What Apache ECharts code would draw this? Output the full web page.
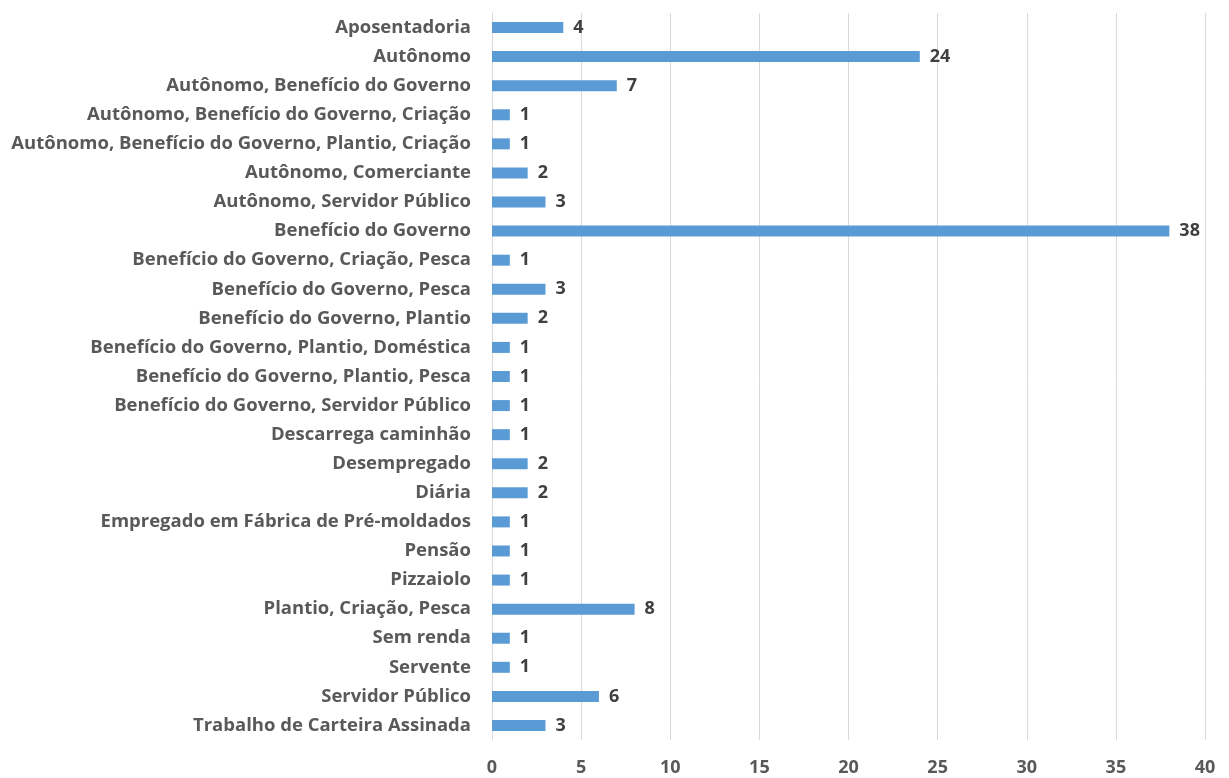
<!DOCTYPE html>
<html>
<head>
<meta charset="utf-8">
<script src="https://cdn.jsdelivr.net/npm/echarts@6/dist/echarts.min.js"></script>
<style>
  html, body { margin: 0; padding: 0; background: #fff; }
  #chart { width: 1229px; height: 778px; }
</style>
</head>
<body>
<div id="chart"></div>
<script>
// Fontes de renda (ordem de cima para baixo)
const categories = [
  "Aposentadoria",
  "Autônomo",
  "Autônomo, Benefício do Governo",
  "Autônomo, Benefício do Governo, Criação",
  "Autônomo, Benefício do Governo, Plantio, Criação",
  "Autônomo, Comerciante",
  "Autônomo, Servidor Público",
  "Benefício do Governo",
  "Benefício do Governo, Criação, Pesca",
  "Benefício do Governo, Pesca",
  "Benefício do Governo, Plantio",
  "Benefício do Governo, Plantio, Doméstica",
  "Benefício do Governo, Plantio, Pesca",
  "Benefício do Governo, Servidor Público",
  "Descarrega caminhão",
  "Desempregado",
  "Diária",
  "Empregado em Fábrica de Pré-moldados",
  "Pensão",
  "Pizzaiolo",
  "Plantio, Criação, Pesca",
  "Sem renda",
  "Servente",
  "Servidor Público",
  "Trabalho de Carteira Assinada"
];
const counts = [4, 24, 7, 1, 1, 2, 3, 38, 1, 3, 2, 1, 1, 1, 1, 2, 2, 1, 1, 1, 8, 1, 1, 6, 3];
const xTicks = { min: 0, max: 40, interval: 5 };

const chart = echarts.init(document.getElementById('chart'), null, { renderer: 'canvas' });
const font = '"Open Sans", sans-serif';

chart.setOption({
  animation: false,
  backgroundColor: '#ffffff',
  grid: { left: 492, right: 24, top: 13, bottom: 38, containLabel: false },
  xAxis: {
    type: 'value',
    min: xTicks.min, max: xTicks.max, interval: xTicks.interval,
    axisLine: { show: false },
    axisTick: { show: false },
    splitLine: { show: true, lineStyle: { color: '#d9d9d9', width: 1 } },
    axisLabel: { color: '#595959', fontFamily: font, fontWeight: 'bold', fontSize: 18, margin: 19 }
  },
  yAxis: {
    type: 'category',
    inverse: true,
    data: categories,
    axisLine: { show: true, lineStyle: { color: '#d9d9d9' } },
    axisTick: { show: false },
    axisLabel: { color: '#595959', fontFamily: font, fontWeight: 'bold', fontSize: 18.5, margin: 21 }
  },
  series: [{
    type: 'bar',
    data: counts,
    barWidth: 11,
    itemStyle: { color: '#5b9bd5' },
    label: {
      show: true,
      position: 'right',
      distance: 10,
      color: '#404040',
      fontFamily: font,
      fontWeight: 'bold',
      fontSize: 18
    }
  }]
});
</script>
</body>
</html>
